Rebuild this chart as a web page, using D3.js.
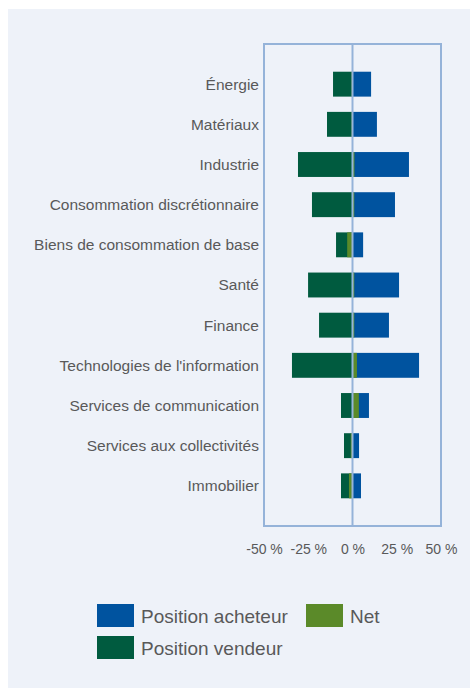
<!DOCTYPE html>
<html>
<head>
<meta charset="utf-8">
<script src="https://cdn.jsdelivr.net/npm/d3@7"></script>
<style>
  html, body { margin: 0; padding: 0; background: #ffffff; }
  svg { display: block; }
  text { font-family: "Liberation Sans", Arial, sans-serif; fill: #595959; }
</style>
</head>
<body>
<svg id="chart" width="470" height="688"></svg>
<script>
const categories = [
  "Énergie",
  "Matériaux",
  "Industrie",
  "Consommation discrétionnaire",
  "Biens de consommation de base",
  "Santé",
  "Finance",
  "Technologies de l'information",
  "Services de communication",
  "Services aux collectivités",
  "Immobilier"
];
const positionAcheteur = [10.5, 13.8, 31.9, 24.0, 6.0, 26.3, 20.6, 37.6, 9.3, 3.7, 4.8];
const positionVendeur  = [-11.0, -14.4, -30.8, -22.9, -9.3, -25.1, -18.9, -34.2, -6.5, -4.8, -6.5];
const net              = [-0.5, -0.5, 1.1, 1.0, -3.0, 1.0, 1.0, 2.5, 3.6, -1.0, -2.0];
const xTicks = [-50, -25, 0, 25, 50];
const legendLabels = ["Position acheteur", "Net", "Position vendeur"];

const colors = {
  acheteur: "#00539f",
  vendeur: "#005b3f",
  net: "#5b8a29",
  frame: "#95b3d9",
  panel: "#eef2f9"
};

const svg = d3.select("#chart");

// background panel
svg.append("rect")
  .attr("x", 8).attr("y", 9)
  .attr("width", 462).attr("height", 679)
  .attr("fill", colors.panel);

const plot = { left: 264, right: 441, top: 44, bottom: 526 };

const x = d3.scaleLinear().domain([-50, 50]).range([plot.left, plot.right]);
const y = d3.scaleBand().domain(categories)
  .range([plot.top, plot.bottom])
  .paddingInner(0.38)
  .paddingOuter(0.69);

const rows = categories.map((c, i) => ({
  cat: c, a: positionAcheteur[i], v: positionVendeur[i], n: net[i]
}));

// vendeur bars
svg.append("g").selectAll("rect").data(rows).join("rect")
  .attr("x", d => x(Math.min(0, d.v)))
  .attr("width", d => Math.abs(x(d.v) - x(0)))
  .attr("y", d => y(d.cat))
  .attr("height", y.bandwidth())
  .attr("fill", colors.vendeur);

// acheteur bars
svg.append("g").selectAll("rect").data(rows).join("rect")
  .attr("x", d => x(Math.min(0, d.a)))
  .attr("width", d => Math.abs(x(d.a) - x(0)))
  .attr("y", d => y(d.cat))
  .attr("height", y.bandwidth())
  .attr("fill", colors.acheteur);

// net bars
svg.append("g").selectAll("rect").data(rows).join("rect")
  .attr("x", d => x(Math.min(0, d.n)))
  .attr("width", d => Math.abs(x(d.n) - x(0)))
  .attr("y", d => y(d.cat))
  .attr("height", y.bandwidth())
  .attr("fill", colors.net);

// zero line
svg.append("line")
  .attr("x1", x(0)).attr("x2", x(0))
  .attr("y1", plot.top).attr("y2", plot.bottom)
  .attr("stroke", colors.frame).attr("stroke-width", 2);

// frame
svg.append("rect")
  .attr("x", plot.left).attr("y", plot.top)
  .attr("width", plot.right - plot.left)
  .attr("height", plot.bottom - plot.top)
  .attr("fill", "none")
  .attr("stroke", colors.frame).attr("stroke-width", 2);

// category labels
const yAxis = d3.axisLeft(y).tickSize(0).tickPadding(0);
const gy = svg.append("g").attr("transform", `translate(259,0)`).call(yAxis);
gy.select(".domain").remove();
gy.selectAll("text")
  .style("font-size", "15.5px")
  .style("font-family", "'Liberation Sans', Arial, sans-serif")
  .attr("fill", "#595959")
  .attr("dy", "0.35em");

// x tick labels
const xAxis = d3.axisBottom(x).tickValues(xTicks).tickSize(0).tickPadding(0)
  .tickFormat(d => d + " %");
const gx = svg.append("g").attr("transform", `translate(0,544)`).call(xAxis);
gx.select(".domain").remove();
gx.selectAll("text")
  .style("font-size", "14px")
  .style("font-family", "'Liberation Sans', Arial, sans-serif")
  .attr("fill", "#595959")
  .attr("dy", "0.71em");

// legend
const legendItems = [
  { label: legendLabels[0], color: colors.acheteur, x: 97, y: 604 },
  { label: legendLabels[1], color: colors.net, x: 306, y: 604 },
  { label: legendLabels[2], color: colors.vendeur, x: 97, y: 636 }
];
const lg = svg.append("g").selectAll("g").data(legendItems).join("g")
  .attr("transform", d => `translate(${d.x},${d.y})`);
lg.append("rect")
  .attr("width", 37).attr("height", 23)
  .attr("fill", d => d.color);
lg.append("text")
  .attr("x", 44).attr("y", 19)
  .style("font-size", "19px")
  .attr("fill", "#595959")
  .text(d => d.label);
</script>
</body>
</html>
